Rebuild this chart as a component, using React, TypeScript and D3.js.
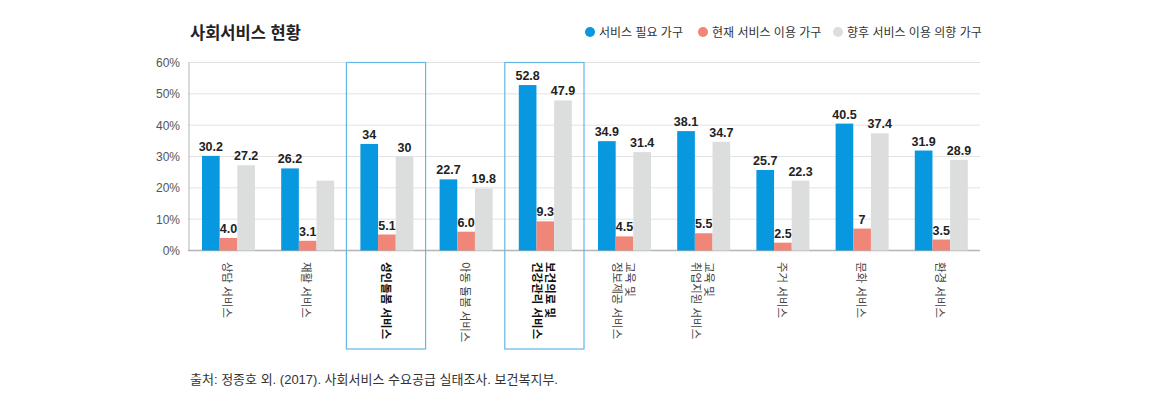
import React from "react";
import * as d3 from "d3";

const categories: string[][] = [
  ["상담 서비스"],
  ["재활 서비스"],
  ["성인돌봄 서비스"],
  ["아동 돌봄 서비스"],
  ["보건의료 및", "건강관리 서비스"],
  ["교육 및", "정보제공 서비스"],
  ["교육 및", "취업지원 서비스"],
  ["주거 서비스"],
  ["문화 서비스"],
  ["환경 서비스"],
];
const highlighted = [false, false, true, false, true, false, false, false, false, false];

const seriesNames = ["서비스 필요 가구", "현재 서비스 이용 가구", "향후 서비스 이용 의향 가구"];
const seriesColors = ["#0898e0", "#ef8677", "#dcdddd"];

const needValues = [30.2, 26.2, 34, 22.7, 52.8, 34.9, 38.1, 25.7, 40.5, 31.9];
const needLabels = ["30.2", "26.2", "34", "22.7", "52.8", "34.9", "38.1", "25.7", "40.5", "31.9"];
const currentValues = [4.0, 3.1, 5.1, 6.0, 9.3, 4.5, 5.5, 2.5, 7, 3.5];
const currentLabels = ["4.0", "3.1", "5.1", "6.0", "9.3", "4.5", "5.5", "2.5", "7", "3.5"];
const futureValues = [27.2, 22.3, 30, 19.8, 47.9, 31.4, 34.7, 22.3, 37.4, 28.9];
const futureLabels = ["27.2", "", "30", "19.8", "47.9", "31.4", "34.7", "22.3", "37.4", "28.9"];

const yTicks = [0, 10, 20, 30, 40, 50, 60];

const title = "사회서비스 현황";
const source = "출처: 정종호 외. (2017). 사회서비스 수요공급 실태조사. 보건복지부.";

const FONT = "'Liberation Sans', Arial, 'Noto Sans CJK KR', sans-serif";

export default function App() {
  const W = 1170;
  const H = 412;
  const left = 188;
  const right = 980;
  const top = 62.5;
  const bottom = 250.5;

  const x = d3.scaleBand<number>().domain(d3.range(categories.length)).range([left, right]).paddingInner(0).paddingOuter(0);
  const y = d3.scaleLinear().domain([0, 60]).range([bottom, top]);
  const inner = d3.scaleBand<number>().domain([0, 1, 2]).range([14, 14 + 53]);

  const series = [
    { values: needValues, labels: needLabels },
    { values: currentValues, labels: currentLabels },
    { values: futureValues, labels: futureLabels },
  ];

  const legendX = [590, 703, 838];

  return (
    <svg width={W} height={H} style={{ display: "block", position: "absolute", left: 0, top: 0 }} fontFamily={FONT}>
      <rect width={W} height={H} fill="#fff" />
      <text x={190} y={39} fontSize={16.5} fontWeight="bold" fill="#222">{title}</text>

      {seriesNames.map((n, i) => (
        <g key={n}>
          <circle cx={legendX[i]} cy={32} r={5} fill={seriesColors[i]} />
          <text x={legendX[i] + 9} y={36.5} fontSize={12} fill="#333">{n}</text>
        </g>
      ))}

      {yTicks.map((t) => (
        <g key={t}>
          <line x1={left} x2={right} y1={y(t)} y2={y(t)} stroke={t === 0 ? "#b5b5b5" : "#e2e2e2"} strokeWidth={t === 0 ? 1.5 : 1} />
          <text x={180} y={y(t) + 4.5} textAnchor="end" fontSize={12} fill="#555">{t}%</text>
        </g>
      ))}
      <line x1={left + 1} x2={left + 1} y1={top} y2={bottom} stroke="#b5b5b5" strokeWidth={1} />

      {categories.map((c, i) =>
        highlighted[i] ? (
          <rect key={"hl" + i} x={(x(i) as number) + 158 - 158} y={top} width={x.bandwidth()} height={349 - top}
            fill="none" stroke="#62b9e8" strokeWidth={1.2} />
        ) : null
      )}

      {series.map((s, si) =>
        s.values.map((v, i) => {
          const bx = (x(i) as number) + (inner(si) as number);
          const bw = inner.bandwidth();
          return (
            <g key={si + "-" + i}>
              <rect x={bx} y={y(v)} width={bw} height={bottom - y(v)} fill={seriesColors[si]} />
              {s.labels[i] ? (
                <text x={bx + bw / 2} y={y(v) - 5} textAnchor="middle" fontSize={12.5} fontWeight="bold" fill="#222">
                  {s.labels[i]}
                </text>
              ) : null}
            </g>
          );
        })
      )}

      {categories.map((c, i) => {
        const cx = (x(i) as number) + x.bandwidth() / 2;
        const lh = 13;
        const offset = ((c.length - 1) * lh) / 2;
        return (
          <text key={"c" + i} transform={`translate(${cx + offset - 4.5},262) rotate(90)`} fontSize={11.5}
            fontWeight={highlighted[i] ? "bold" : "normal"} fill={highlighted[i] ? "#111" : "#444"}>
            {c.map((line, li) => (
              <tspan key={li} x={0} y={li * lh}>{line}</tspan>
            ))}
          </text>
        );
      })}

      <text x={190} y={384} fontSize={13} fill="#333">{source}</text>
    </svg>
  );
}
